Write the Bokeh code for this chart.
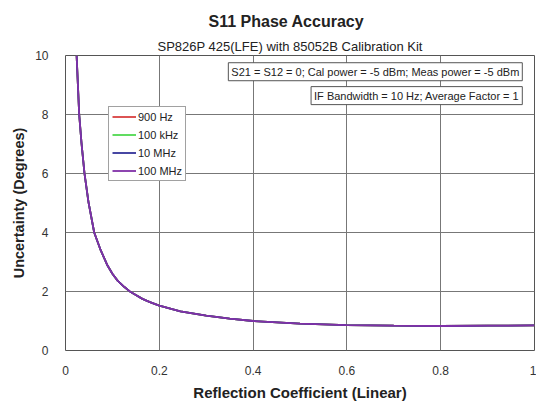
from bokeh.plotting import figure
from bokeh.models import (Title, Label, FixedTicker, Legend, LegendItem, Range1d)
from bokeh.embed import file_html
from bokeh.resources import INLINE

# Data
refl = [0.0237, 0.0292, 0.034, 0.0405, 0.049, 0.0612, 0.075, 0.0896, 0.1, 0.111, 0.125,
        0.139, 0.15, 0.164, 0.18, 0.2, 0.245, 0.3, 0.35, 0.4, 0.5, 0.6, 0.7, 0.8, 0.9, 1.0]
unc_900hz = [10.0, 8.0, 7.05, 6.0, 5.03, 4.0, 3.4, 2.88, 2.6, 2.37, 2.16,
             1.98, 1.88, 1.75, 1.64, 1.52, 1.33, 1.18, 1.08, 1.0, 0.91, 0.86, 0.84, 0.83, 0.84, 0.85]
unc_100khz = [10.0, 8.0, 7.05, 6.0, 5.03, 4.0, 3.4, 2.88, 2.6, 2.37, 2.16,
              1.98, 1.88, 1.75, 1.64, 1.52, 1.33, 1.18, 1.08, 1.0, 0.91, 0.86, 0.84, 0.83, 0.84, 0.85]
unc_10mhz = [10.0, 8.0, 7.05, 6.0, 5.03, 4.0, 3.4, 2.88, 2.6, 2.37, 2.16,
             1.98, 1.88, 1.75, 1.64, 1.52, 1.33, 1.18, 1.08, 1.0, 0.91, 0.86, 0.84, 0.83, 0.84, 0.85]
unc_100mhz = [10.0, 8.0, 7.05, 6.0, 5.03, 4.0, 3.4, 2.88, 2.6, 2.37, 2.16,
              1.98, 1.88, 1.75, 1.64, 1.52, 1.33, 1.18, 1.08, 1.0, 0.91, 0.86, 0.84, 0.83, 0.84, 0.85]
series_names = ["900 Hz", "100 kHz", "10 MHz", "100 MHz"]
series_colors = ["#d94040", "#50d850", "#333399", "#8030a8"]
x_ticks = [0, 0.2, 0.4, 0.6, 0.8, 1.0]
x_tick_labels = ["0", "0.2", "0.4", "0.6", "0.8", "1"]
y_ticks = [0, 2, 4, 6, 8, 10]
y_tick_labels = ["0", "2", "4", "6", "8", "10"]
title_text = "S11 Phase Accuracy"
subtitle_text = "SP826P 425(LFE) with 85052B Calibration Kit"
note1 = "S21 = S12 = 0; Cal power = -5 dBm; Meas power = -5 dBm"
note2 = "IF Bandwidth = 10 Hz; Average Factor = 1"

FONT = "Liberation Sans"

p = figure(width=536, height=403, output_backend="svg", toolbar_location=None,
           x_range=Range1d(0, 1), y_range=Range1d(0, 10),
           min_border_left=65, min_border_right=2, min_border_top=55, min_border_bottom=51)
p.background_fill_color = "white"
p.border_fill_color = "white"
p.outline_line_color = "#555555"
p.outline_line_width = 1

sub = Title(text=subtitle_text, align="left",
            text_font=FONT, text_font_size="13px", text_font_style="normal",
            text_color="#222222", offset=92, standoff=4)
main = Title(text=title_text, align="left", vertical_align="top", text_font=FONT,
             text_font_size="16px", text_font_style="bold", text_color="#222222",
             text_line_height=0.7, offset=143, standoff=6)
p.add_layout(sub, "above")
p.add_layout(main, "above")

# Grid
p.xgrid.ticker = FixedTicker(ticks=x_ticks)
p.ygrid.ticker = FixedTicker(ticks=y_ticks)
for g in (p.xgrid, p.ygrid):
    g.grid_line_color = "#777777"
    g.grid_line_width = 1

# Axes
p.xaxis.ticker = FixedTicker(ticks=x_ticks)
p.yaxis.ticker = FixedTicker(ticks=y_ticks)
p.xaxis.major_label_overrides = {t: l for t, l in zip(x_ticks, x_tick_labels)}
p.yaxis.major_label_overrides = {t: l for t, l in zip(y_ticks, y_tick_labels)}
p.xaxis.axis_label = "Reflection Coefficient (Linear)"
p.yaxis.axis_label = "Uncertainty (Degrees)"
for ax in (p.xaxis, p.yaxis):
    ax.axis_line_color = None
    ax.major_tick_line_color = None
    ax.minor_tick_line_color = None
    ax.major_label_text_font = FONT
    ax.major_label_text_font_size = "12px"
    ax.major_label_text_color = "#333333"
    ax.axis_label_text_font = FONT
    ax.axis_label_text_font_style = "bold"
    ax.axis_label_text_color = "#222222"
p.xaxis.axis_label_text_font_size = "15px"
p.yaxis.axis_label_text_font_size = "14.5px"
p.xaxis.major_label_standoff = 9
p.xaxis.axis_label_standoff = 6
p.yaxis.major_label_standoff = 11
p.yaxis.axis_label_standoff = 5

# Lines
renderers = []
for ys, c in zip([unc_900hz, unc_100khz, unc_10mhz, unc_100mhz], series_colors):
    r = p.line(refl, ys, line_color=c, line_width=1.8)
    renderers.append(r)

legend = Legend(items=[LegendItem(label=n, renderers=[r]) for n, r in zip(series_names, renderers)],
                location=(43, 169))
legend.label_text_font = FONT
legend.label_text_font_size = "11px"
legend.label_text_color = "#222222"
legend.glyph_width = 24
legend.glyph_height = 13
legend.label_height = 13
legend.spacing = 5
legend.padding = 3
legend.margin = 0
legend.label_standoff = 2
legend.border_line_color = "#444444"
legend.border_line_width = 1
legend.background_fill_color = "white"
legend.background_fill_alpha = 1
p.add_layout(legend, "center")

for txt, yy in ((note1, 9.45), (note2, 8.64)):
    lab = Label(x=0.974, y=yy, text=txt, text_align="right", text_baseline="middle",
                text_font=FONT, text_font_size="11px", text_color="#222222",
                border_line_color="#555555", border_line_width=1,
                background_fill_color="white", background_fill_alpha=1, padding=3)
    p.add_layout(lab)

open("out.html", "w").write(file_html(p, INLINE))
